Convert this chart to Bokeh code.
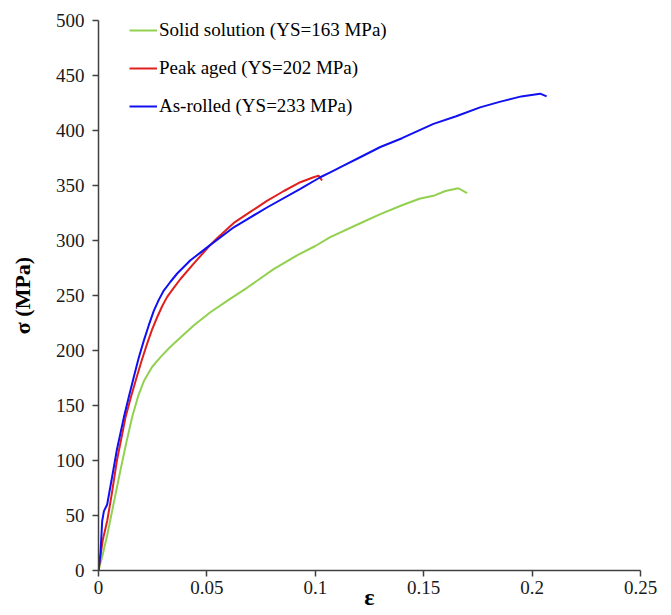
from bokeh.plotting import figure
from bokeh.models import Range1d, Legend, LegendItem, FixedTicker
from bokeh.embed import file_html
from bokeh.resources import INLINE

# Data
ss_eps = [0, 0.002, 0.004, 0.007, 0.010, 0.0128, 0.01551, 0.0182, 0.0209, 0.0247, 0.0286,
          0.0325, 0.0363, 0.0439, 0.0516, 0.060, 0.0685, 0.0808, 0.092, 0.10, 0.1069, 0.12,
          0.13, 0.14, 0.148, 0.155, 0.160, 0.166, 0.170]
ss_sig = [0, 15, 32, 61, 90, 116, 139.4, 158, 172, 185, 194, 202, 209, 222.7, 234.8, 246, 257,
          274, 287, 295, 303, 315, 324, 332, 338, 341, 345, 347.5, 343]

pa_eps = [0, 0.001, 0.002, 0.004, 0.006, 0.0085, 0.01244, 0.0150, 0.0178, 0.0201, 0.0224,
          0.0247, 0.0270, 0.0293, 0.0316, 0.0347, 0.0378, 0.0439, 0.0516, 0.0547, 0.0624,
          0.070, 0.0777, 0.0855, 0.0931, 0.0992, 0.1015, 0.1031]
pa_sig = [0, 15, 28, 45, 68, 100, 139, 158, 177, 192, 206, 219, 230, 240, 248.5, 257, 265, 279,
          296, 302, 316, 326, 336, 345, 353, 357.5, 359, 354.5]

ar_eps = [0, 0.0009, 0.0017, 0.0025, 0.004, 0.006, 0.0085, 0.01167, 0.0140, 0.01628, 0.0185,
          0.0209, 0.0232, 0.0255, 0.0278, 0.0301, 0.0332, 0.0363, 0.0424, 0.047, 0.0516, 0.0624,
          0.0777, 0.0931, 0.1023, 0.1069, 0.113, 0.12, 0.13, 0.14, 0.1545, 0.165, 0.176, 0.185,
          0.195, 0.2037, 0.2067]
ar_sig = [0, 15, 45, 54, 60, 82, 110, 139, 158, 176, 193, 209, 223, 236, 246, 254.5, 262.5, 270,
          282, 289, 296, 312, 330, 347, 357.5, 362, 368, 375, 385, 393, 406, 413, 421, 426, 431,
          433.5, 431]

labels = ["Solid solution (YS=163 MPa)", "Peak aged (YS=202 MPa)", "As-rolled (YS=233 MPa)"]
x_ticks = [0, 0.05, 0.1, 0.15, 0.2, 0.25]
x_tick_labels = ["0", "0.05", "0.1", "0.15", "0.2", "0.25"]
y_ticks = [0, 50, 100, 150, 200, 250, 300, 350, 400, 450, 500]
x_title = "ε"
y_title = "σ (MPa)"

FONT = "Liberation Serif"

p = figure(width=671, height=615, output_backend="svg", toolbar_location=None,
           x_range=Range1d(0, 0.25), y_range=Range1d(0, 500),
           min_border_left=98, min_border_right=31, min_border_top=20, min_border_bottom=45)
p.outline_line_color = None
p.xgrid.visible = False
p.ygrid.visible = False

r1 = p.line(ss_eps, ss_sig, line_color="#92D050", line_width=2)
r2 = p.line(pa_eps, pa_sig, line_color="#E0201F", line_width=2)
r3 = p.line(ar_eps, ar_sig, line_color="#1010F0", line_width=2)

for ax in (p.xaxis[0], p.yaxis[0]):
    ax.axis_line_color = "#404040"
    ax.axis_line_width = 1.5
    ax.major_tick_line_color = "#404040"
    ax.major_tick_line_width = 1.5
    ax.major_tick_in = 0
    ax.major_tick_out = 6
    ax.minor_tick_line_color = None
    ax.major_label_text_font = FONT
    ax.major_label_text_font_size = "19px"
    ax.major_label_text_color = "#1a1a1a"
    ax.axis_label_text_font = FONT
    ax.axis_label_text_font_style = "bold"
    ax.axis_label_text_color = "black"

p.xaxis[0].ticker = FixedTicker(ticks=x_ticks)
p.yaxis[0].ticker = FixedTicker(ticks=y_ticks)
p.xaxis[0].major_label_overrides = dict(zip(x_ticks, x_tick_labels))
p.xaxis[0].major_label_standoff = 4
p.xaxis[0].axis_label = x_title
p.xaxis[0].axis_label_text_font_size = "24px"
p.xaxis[0].axis_label_standoff = -13
p.yaxis[0].major_label_standoff = 8
p.yaxis[0].axis_label = y_title
p.yaxis[0].axis_label_text_font_size = "22px"
p.yaxis[0].axis_label_standoff = 18

legend = Legend(items=[LegendItem(label=labels[0], renderers=[r1]),
                       LegendItem(label=labels[1], renderers=[r2]),
                       LegendItem(label=labels[2], renderers=[r3])],
                location=(31, 453), padding=0, margin=0, spacing=16,
                glyph_width=28, glyph_height=22, label_height=22, label_standoff=2,
                label_text_font=FONT, label_text_font_size="19px",
                label_text_color="black",
                border_line_alpha=0, background_fill_alpha=0)
p.add_layout(legend)

open("out.html", "w").write(file_html(p, INLINE))
